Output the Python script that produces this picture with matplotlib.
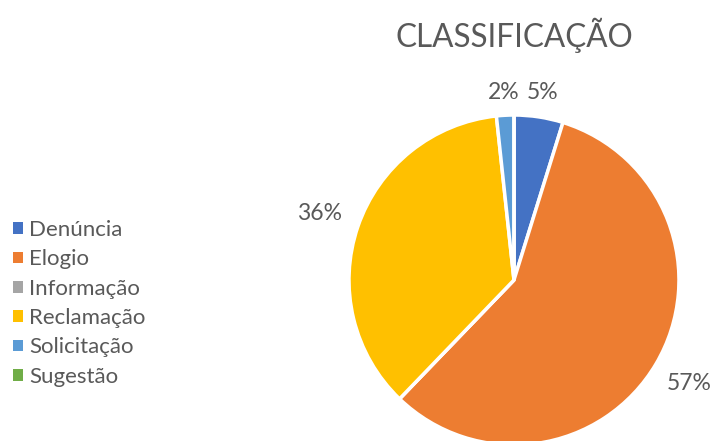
import numpy as np
import matplotlib.pyplot as plt
from matplotlib.patches import Patch

plt.rcParams['font.family'] = ['Lato', 'DejaVu Sans']

# slice values (percent), clockwise from top
categories = ['Denúncia', 'Elogio', 'Informação', 'Reclamação', 'Solicitação', 'Sugestão']
values = [4.8, 57.4, 0.0, 36.1, 1.7, 0.0]
colors = ['#4472C4', '#ED7D31', '#A5A5A5', '#FFC000', '#5B9BD5', '#70AD47']
text_color = '#595959'

fig = plt.figure(figsize=(7.2, 4.41), dpi=100)
ax = fig.add_axes([0.4847, -0.0091, 0.4583, 0.7483])

wedges = ax.pie(values, colors=colors, startangle=90, counterclock=False,
                wedgeprops=dict(edgecolor='white', linewidth=2.5))[0]
for w in wedges:
    w.set_clip_on(False)

# percentage labels outside the pie (further out on the sides, like Excel)
total = sum(values)
angle = 90.0
for v in values:
    span = v / total * 360
    mid = np.deg2rad(angle - span / 2)
    angle -= span
    if v <= 0.5:
        continue
    d = 1.13 + 0.12 * abs(np.cos(mid))
    ax.text(d * np.cos(mid), d * np.sin(mid), f'{v / total * 100:.0f}%',
            ha='center', va='center', fontsize=16.5, color=text_color)

ax.set_xlim(-1, 1)
ax.set_ylim(-1, 1)
ax.set_aspect('equal')

fig.text(0.714, 0.92, 'CLASSIFICAÇÃO', ha='center', va='center',
         fontsize=22.7, color=text_color)

handles = [Patch(facecolor=c, edgecolor='none') for c in colors]
fig.legend(handles, categories, loc='center left', bbox_to_anchor=(-0.01, 0.312),
           frameon=False, fontsize=16, labelcolor=text_color,
           handlelength=0.45, handleheight=0.45, handletextpad=0.3,
           labelspacing=0.42)

fig.savefig('out.png', dpi=100)
